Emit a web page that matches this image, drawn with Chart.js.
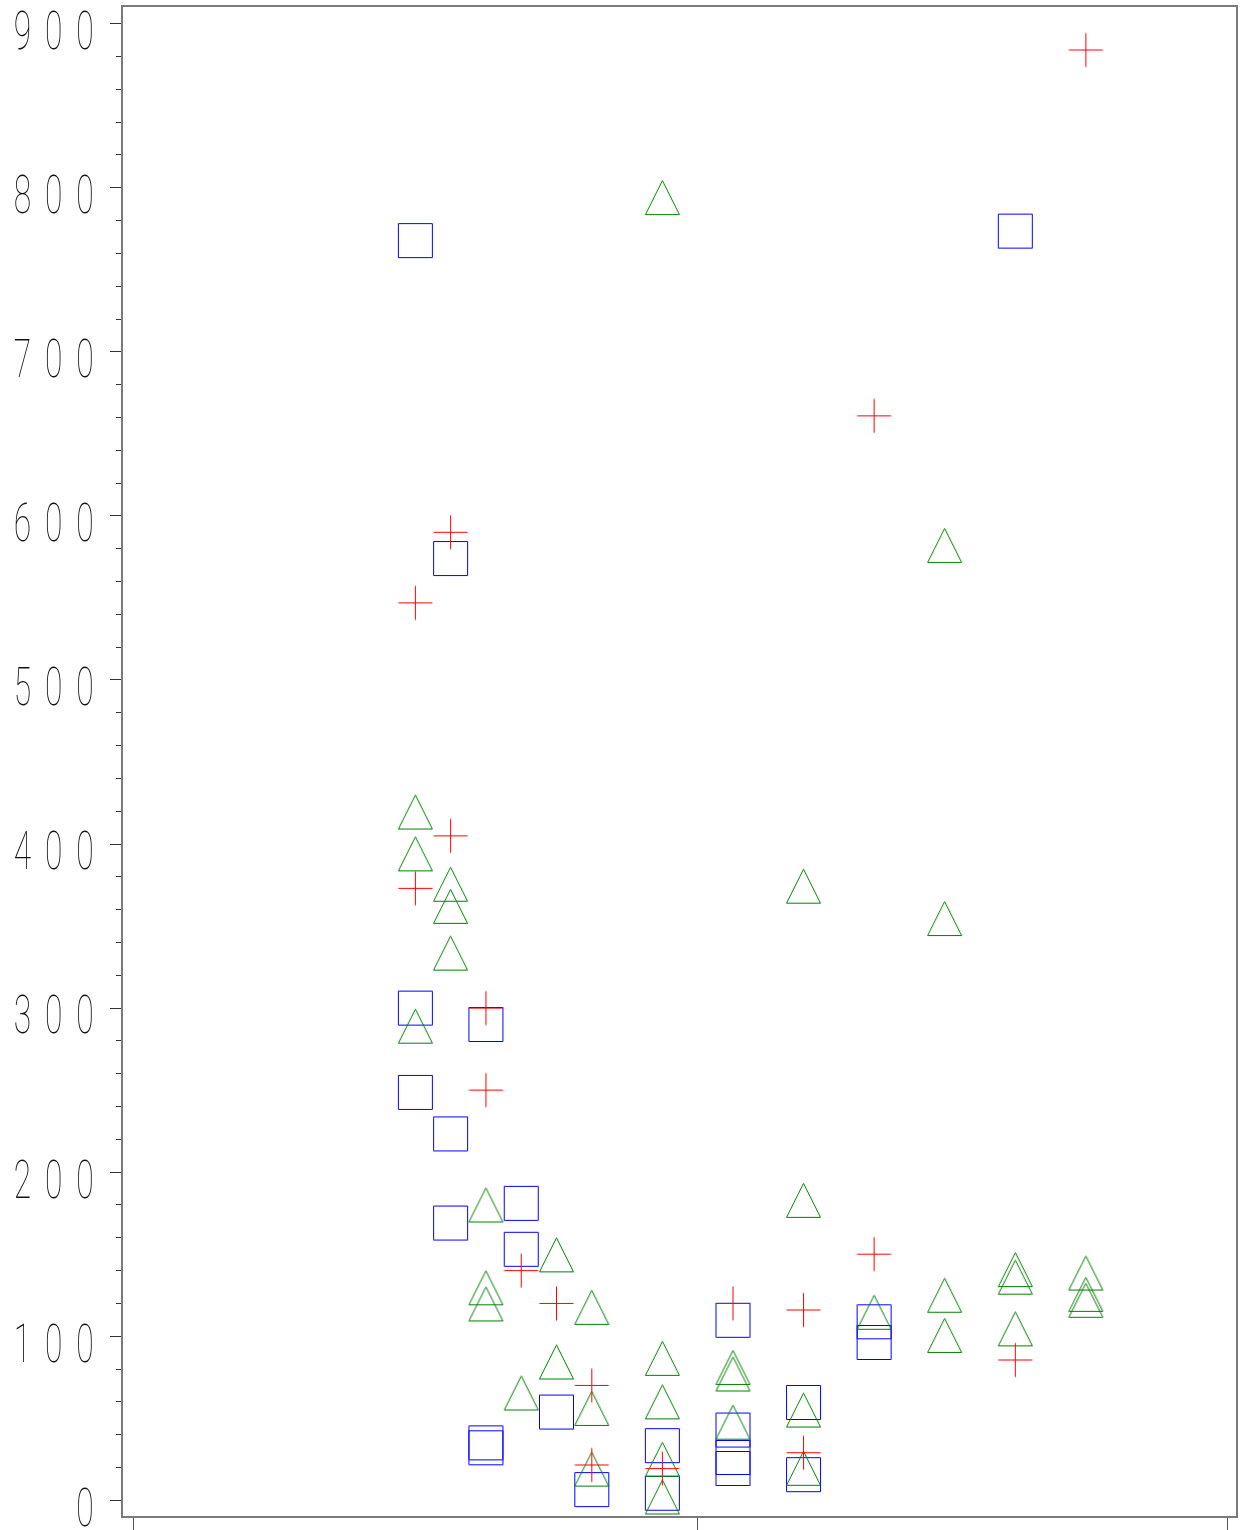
<!DOCTYPE html>
<html>
<head>
<meta charset="utf-8">
<script src="https://cdn.jsdelivr.net/npm/chart.js@4.4.0/dist/chart.umd.min.js"></script>
<style>
  html, body { margin: 0; padding: 0; background: #fff; }
</style>
</head>
<body>
<canvas id="chart" width="1249" height="1530"></canvas>
<script>
// values
const yTickLabels = ["0", "100", "200", "300", "400", "500", "600", "700", "800", "900"];
const xTickValues = [0, 16, 31];

const redX = [8, 8, 9, 9, 10, 10, 11, 12, 13, 13, 15, 17, 19, 19, 21, 21, 25, 27];
const redY = [547, 373, 590, 405, 300, 250, 140, 120, 70, 21.5, 19.3, 120, 116, 29, 150, 661, 85.5, 884];

const greenX = [8, 8, 8, 9, 9, 9, 10, 10, 10, 11, 12, 12, 13, 13, 13, 15, 15, 15, 15, 15,
  17, 17, 17, 19, 19, 19, 19, 21, 23, 23, 23, 23, 25, 25, 25, 27, 27, 27];
const greenY = [419.5, 394, 289, 375.5, 362, 333.5, 180, 129.5, 119.7, 65.4, 149.6, 84.3, 117.6, 56, 19, 794, 86.5, 60, 25, 2,
  81, 77, 47.6, 374.3, 182.8, 55, 19.5, 114.6, 582, 354.6, 125, 100.5, 140.6, 136, 104.5, 138.5, 125.5, 121.9];

const blueX = [8, 8, 8, 9, 9, 9, 10, 10, 10, 11, 11, 12, 13, 15, 15, 17, 17, 17, 17, 19, 19, 21, 21, 25];
const blueY = [767.8, 300, 248.6, 574, 223.3, 169, 290, 35, 32, 181, 153, 53.8, 6.5, 33.3, 4.3,
  109.7, 42.8, 26.1, 19.4, 59.6, 15.6, 108.8, 96.2, 773.6];

function makeMarker(kind, color) {
  const c = document.createElement("canvas");
  c.width = 37;
  c.height = 37;
  const g = c.getContext("2d");
  g.strokeStyle = color;
  g.lineWidth = 1;
  g.beginPath();
  if (kind === "square") {
    g.rect(1.5, 1.5, 34, 34);
  } else if (kind === "triangle") {
    g.moveTo(18.5, 1.5);
    g.lineTo(35.5, 35.5);
    g.lineTo(1.5, 35.5);
    g.closePath();
  } else {
    g.moveTo(1.5, 18.5);
    g.lineTo(35.5, 18.5);
    g.moveTo(18.5, 1.5);
    g.lineTo(18.5, 35.5);
  }
  g.stroke();
  return c;
}

function points(xs, ys) {
  return xs.map((x, i) => ({ x, y: ys[i] }));
}

// box round the plot area
const framePlugin = {
  id: "frame",
  beforeDatasetsDraw(chart) {
    const { ctx, chartArea: a } = chart;
    ctx.save();
    ctx.strokeStyle = "#7a7a7a";
    ctx.lineWidth = 2;
    ctx.strokeRect(a.left, a.top, a.right - a.left, a.bottom - a.top);
    ctx.restore();
  }
};

// tall narrow y labels, spaced digits
const yLabelPlugin = {
  id: "yLabels",
  afterDraw(chart) {
    const { ctx } = chart;
    const scale = chart.scales.y;
    ctx.save();
    ctx.fillStyle = "#111";
    ctx.font = "100 53px Roboto, 'Open Sans', sans-serif";
    ctx.textAlign = "center";
    ctx.textBaseline = "alphabetic";
    yTickLabels.forEach((label) => {
      const base = scale.getPixelForValue(Number(label)) + 25.4;
      const n = label.length;
      for (let i = 0; i < n; i++) {
        const cx = 85 - (n - 1 - i) * 31.3;
        ctx.save();
        ctx.translate(cx, base);
        ctx.scale(0.6, 1);
        ctx.fillText(label[i], 0, 0);
        ctx.restore();
      }
    });
    ctx.restore();
  }
};

new Chart(document.getElementById("chart"), {
  type: "scatter",
  data: {
    datasets: [
      { label: "red", data: points(redX, redY), pointStyle: makeMarker("plus", "#ff0000") },
      { label: "green", data: points(greenX, greenY), pointStyle: makeMarker("triangle", "#008000") },
      { label: "blue", data: points(blueX, blueY), pointStyle: makeMarker("square", "#0000ff") }
    ]
  },
  options: {
    responsive: false,
    animation: false,
    layout: { padding: { left: 110, top: 6, right: 12, bottom: 0 } },
    plugins: { legend: { display: false }, tooltip: { enabled: false } },
    scales: {
      x: {
        type: "linear",
        min: -0.3117,
        max: 31.283,
        afterBuildTicks: (scale) => { scale.ticks = xTickValues.map((v) => ({ value: v })); },
        ticks: { display: false },
        border: { display: false },
        grid: { drawOnChartArea: false, tickLength: 13, tickColor: "#555", tickWidth: 1 }
      },
      y: {
        type: "linear",
        min: -10.2,
        max: 910.8,
        afterBuildTicks: (scale) => {
          const t = [];
          for (let v = 0; v <= 900; v += 20) t.push({ value: v });
          scale.ticks = t;
        },
        ticks: { display: false },
        border: { display: false },
        grid: {
          drawOnChartArea: false,
          tickLength: 12,
          tickColor: "#333",
          tickWidth: 1,
          tickBorderDash: (ctx) => (ctx.tick && ctx.tick.value % 100 !== 0 ? [6, 6] : []),
          tickBorderDashOffset: (ctx) => (ctx.tick && ctx.tick.value % 100 !== 0 ? 6 : 0)
        }
      }
    }
  },
  plugins: [framePlugin, yLabelPlugin]
});
</script>
</body>
</html>
